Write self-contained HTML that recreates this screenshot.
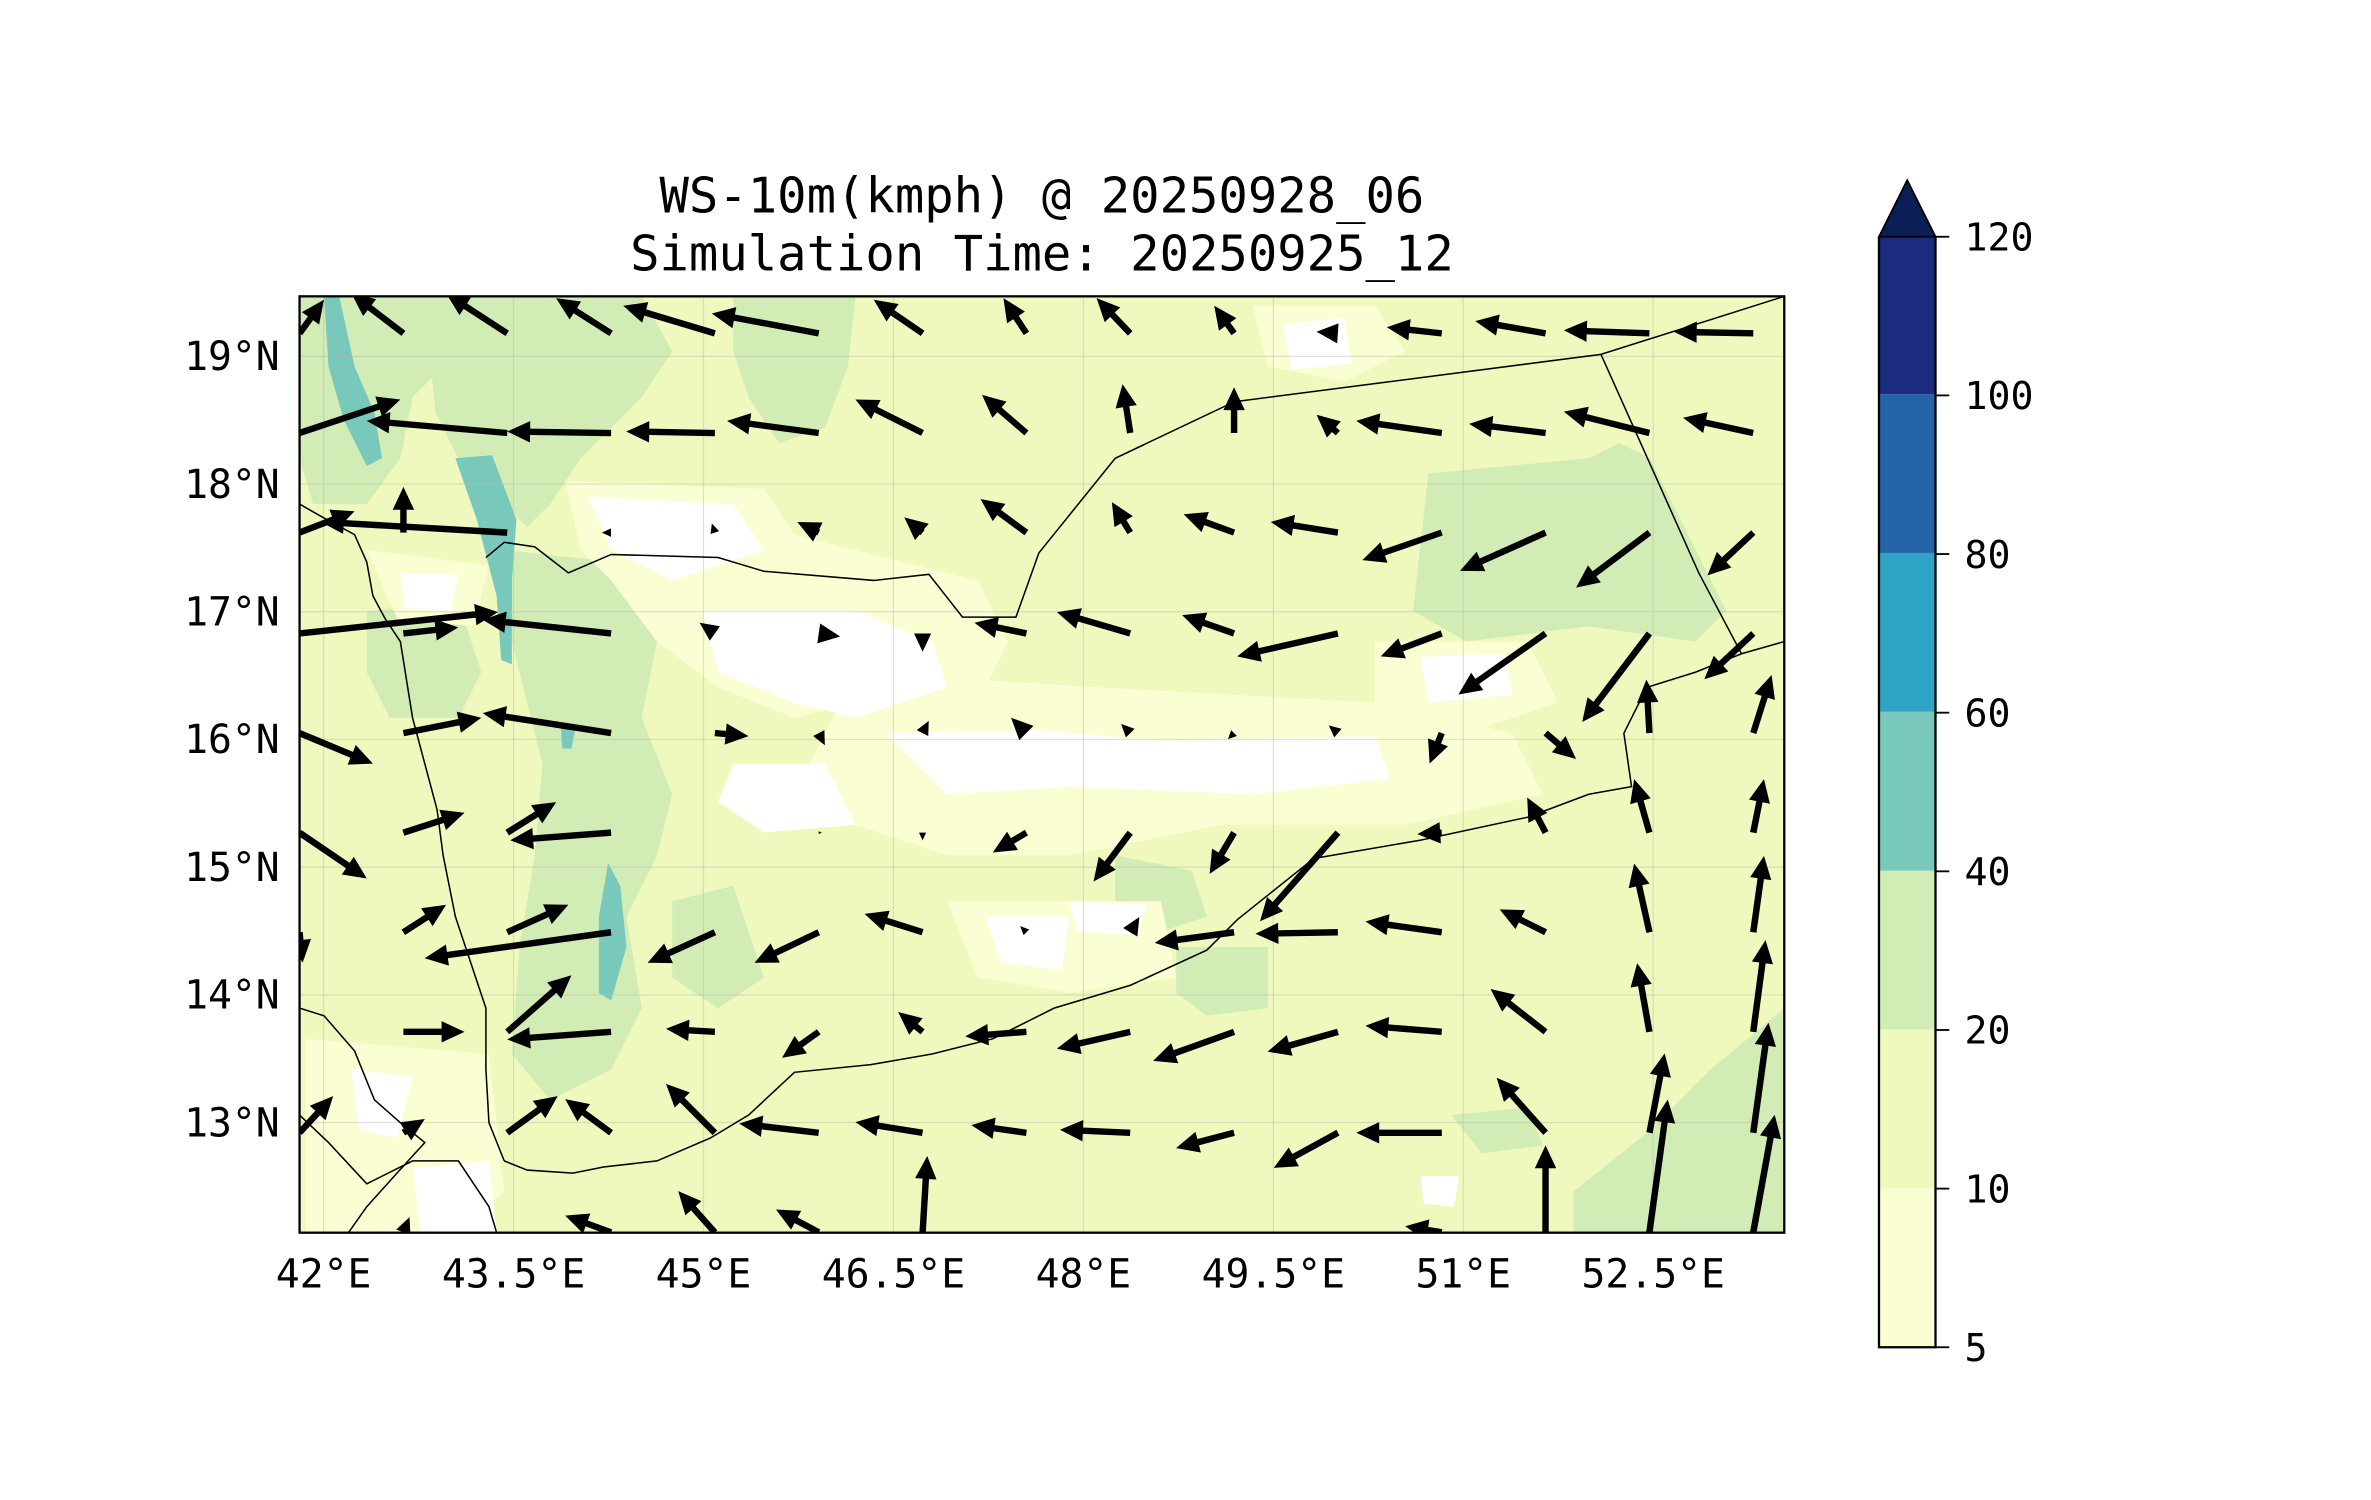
<!DOCTYPE html>
<html><head><meta charset="utf-8"><style>
html,body{margin:0;padding:0;background:#fff;}
svg{display:block;}
text{font-family:"DejaVu Sans Mono","Liberation Mono",monospace;fill:#000;}
</style></head><body>
<svg id="chart" width="2371" height="1500" viewBox="0 0 1552 982" xmlns="http://www.w3.org/2000/svg">
<defs><clipPath id="mapclip"><rect x="196" y="194" width="972" height="613"/></clipPath></defs>
<text x="682" y="139" font-size="32" text-anchor="middle">WS-10m(kmph) @ 20250928_06</text>
<text x="682" y="177" font-size="32" text-anchor="middle">Simulation Time: 20250925_12</text>
<g clip-path="url(#mapclip)">
<rect x="196" y="194" width="972" height="613" fill="#eff8bd"/>
<g fill="#d1ecb4">
<path d="M196,194 L300,194 L300,230 L270,260 L262,300 L240,330 L205,330 L196,300Z"/>
<path d="M290,194 L420,194 L440,230 L420,260 L400,280 L380,300 L360,330 L345,345 L330,330 L300,300 L285,270 L282,240Z"/>
<path d="M480,194 L560,194 L555,240 L540,280 L510,290 L490,260 L480,230Z"/>
<path d="M330,360 L420,370 L430,420 L420,470 L440,520 L430,560 L410,600 L420,660 L400,700 L360,720 L335,690 L340,620 L350,560 L355,500 L340,440 L330,400Z"/>
<path d="M240,400 L300,395 L315,440 L300,470 L255,470 L240,440Z"/>
<path d="M935,310 L1040,300 L1060,290 L1080,300 L1130,400 L1110,420 L1040,410 L960,420 L925,400 Z"/>
<path d="M730,560 L780,570 L790,600 L760,610 L730,600 Z"/>
<path d="M770,620 L830,620 L830,660 L790,665 L770,650Z"/>
<path d="M440,590 L480,580 L500,640 L470,660 L440,640Z"/>
<path d="M1030,780 L1080,740 L1120,700 L1168,660 L1168,807 L1030,807Z"/>
<path d="M950,730 L1000,725 L1010,750 L970,755Z"/>
<path d="M620,470 L700,460 L720,500 L690,520 L640,515Z"/>
</g>
<g fill="#78c8bb">
<path d="M212,194 L222,194 L232,240 L245,270 L250,300 L240,305 L225,275 L215,240Z"/>
<path d="M298,300 L322,298 L338,340 L335,380 L335,435 L328,432 L325,390 L312,340Z"/>
<path d="M398,565 L406,580 L410,620 L400,655 L392,650 L392,600Z"/>
<path d="M367,475 L377,475 L374,490 L368,490Z"/>
</g>
<g fill="#fbfdd2">
<path d="M370,315 L500,320 L520,350 L640,380 L660,420 L640,460 L620,470 L560,460 L520,470 L470,450 L430,420 L400,380 L380,360Z"/>
<path d="M560,440 L720,450 L900,460 L990,480 L1010,520 L920,540 L800,540 L700,560 L620,560 L560,540 L520,520Z"/>
<path d="M820,200 L900,200 L920,230 L880,250 L830,240Z"/>
<path d="M200,680 L320,690 L330,780 L300,807 L200,807Z"/>
<path d="M620,590 L760,590 L770,640 L700,650 L640,640Z"/>
<path d="M900,420 L1000,420 L1020,460 L960,480 L900,460Z"/>
<path d="M240,360 L320,370 L310,410 L260,405Z"/>
</g>
<g fill="#ffffff">
<path d="M385,325 L480,330 L500,360 L440,380 L400,360Z"/>
<path d="M460,400 L560,400 L610,420 L620,450 L560,470 L520,460 L470,440Z"/>
<path d="M580,480 L680,478 L760,485 L900,482 L910,510 L820,520 L700,515 L620,520 L600,500Z"/>
<path d="M480,500 L540,500 L560,540 L500,545 L470,525Z"/>
<path d="M840,212 L880,208 L885,238 L845,242Z"/>
<path d="M930,430 L985,428 L990,455 L935,460Z"/>
<path d="M645,600 L700,600 L695,635 L655,630Z"/>
<path d="M700,590 L750,592 L745,612 L705,610Z"/>
<path d="M262,375 L300,376 L295,400 L265,398Z"/>
<path d="M230,700 L270,705 L260,745 L235,740Z"/>
<path d="M270,765 L320,760 L325,807 L275,807Z"/>
<path d="M930,770 L955,770 L952,790 L932,788Z"/>
</g>
<g id="grid" stroke="#bbb" stroke-opacity="0.45" stroke-width="0.8"></g>
<g fill="none" stroke="#000" stroke-width="1">
<path d="M196,330 L210,338 L232,350 L240,368 L244,390 L252,405 L262,420 L266,445 L270,470 L278,500 L286,530 L290,560 L298,600 L308,630 L318,660 L318,700 L320,735 L330,760"/>
<path d="M330,760 L345,766 L375,768 L395,764 L430,760 L465,745 L490,730 L520,702 L570,697 L610,690 L650,680 L690,660 L740,645 L790,622 L810,602 L860,562 L930,550 L1000,535 L1040,520 L1068,515 L1063,480 L1078,450 L1110,440 L1140,428 L1168,420"/>
<path d="M196,660 L212,665 L232,688 L245,720 L262,735 L278,748 L258,770 L240,790 L228,807"/>
<path d="M196,730 L215,748 L240,775 L270,760 L300,760 L320,790 L325,807"/>
<path d="M318,365 L330,355 L350,358 L372,375 L400,363 L470,365 L500,374 L572,380 L608,376 L630,404 L665,404 L680,362 L730,300 L808,263 L1048,232 L1168,194"/>
<path d="M1048,232 L1112,375 L1140,428"/>
</g>
<g id="quiver" fill="#000"></g>
</g>
<rect x="196" y="194" width="972" height="613" fill="none" stroke="#000" stroke-width="1.5"/>
<g id="ticks"></g>
<g>
<rect x="1230" y="778" width="37" height="104" fill="#fbfdd2"/>
<rect x="1230" y="674" width="37" height="104" fill="#eff8bd"/>
<rect x="1230" y="570" width="37" height="104" fill="#d1ecb4"/>
<rect x="1230" y="466" width="37" height="104" fill="#78c8bb"/>
<rect x="1230" y="362" width="37" height="104" fill="#2ea4c4"/>
<rect x="1230" y="258" width="37" height="104" fill="#2363a8"/>
<rect x="1230" y="155" width="37" height="103" fill="#1c2c80"/>
<path d="M1230,155 L1248.5,118 L1267,155Z" fill="#0b1e55" stroke="#000" stroke-width="1.2"/>
<path d="M1230,155 L1230,882 L1267,882 L1267,155" fill="none" stroke="#000" stroke-width="1.5"/>
<g id="cbticks"></g>
</g>
</svg>
<script>
const lons = [41.81,42.63,43.45,44.27,45.09,45.91,46.73,47.55,48.37,49.19,50.01,50.83,51.65,52.47,53.29];
const lats = [19.18,18.40,17.62,16.83,16.05,15.27,14.49,13.71,12.92,12.14];
const U = [
[16,-34,-40,-36,-60,-70,-32,-15,-22,-13,-14,-36,-46,-56,-52],
[66,0,-92,-68,-58,-60,-44,-29,-5,0,-14,-56,-50,-56,-46],
[36,0,-122,-6,-2,-14,-12,-30,-12,-33,-44,-52,-56,-48,-30],
[130,36,0,-84,-10,14,0,-34,-48,-34,-66,-40,-57,-44,-32],
[48,51,0,-84,22,4,4,-10,-6,-4,-6,-8,20,-2,12],
[44,40,32,-66,0,2,0,-22,-24,-16,-51,-16,-12,-10,7],
[2,28,40,-122,-44,-42,-38,-4,6,-52,-54,-50,-30,-10,7],
[0,40,42,-68,-32,-24,-16,-40,-48,-53,-46,-50,-36,-8,8],
[22,14,33,-30,-32,-52,-44,-36,-46,-38,-42,-56,-32,10,10],
[0,4,0,-30,-24,-28,3,0,0,0,0,-24,0,12,14]];
const V = [
[22,26,26,23,18,13,22,23,23,18,1,4,8,2,1],
[22,0,8,1,1,8,22,25,32,30,12,8,6,14,10],
[14,30,7,0,6,7,10,22,20,12,7,-18,-25,-36,-28],
[14,4,0,9,7,-2,-12,7,14,12,-15,-15,-40,-58,-30],
[-20,10,0,13,-2,-8,8,10,6,-4,5,-20,-17,35,38],
[-30,13,20,-5,0,0,-5,-13,-32,-27,-58,-1,23,35,35],
[-20,18,18,-17,-20,-20,12,4,10,-7,-1,7,15,45,50],
[0,0,37,-5,2,-17,13,-3,-11,-19,-13,4,28,45,60],
[24,9,24,22,32,6,7,5,2,-10,-23,0,36,52,72],
[0,10,0,11,27,15,50,0,0,0,0,4,57,87,77]];
const xTicks = [42,43.5,45,46.5,48,49.5,51,52.5];
const xTickLabels = ["42°E","43.5°E","45°E","46.5°E","48°E","49.5°E","51°E","52.5°E"];
const yTicks = [13,14,15,16,17,18,19];
const yTickLabels = ["13°N","14°N","15°N","16°N","17°N","18°N","19°N"];
const cbValues = [5,10,20,40,60,80,100,120];

const NS="http://www.w3.org/2000/svg";
function xs(lon){return 196+(lon-41.81)*82.9;}
function ys(lat){return 194+(19.47-lat)*83.6;}
function cb(i){return 882-i*(727/7);}
function mk(tag,attrs){const e=document.createElementNS(NS,tag);for(const k in attrs)e.setAttribute(k,attrs[k]);return e;}

const grid=document.getElementById('grid');
xTicks.forEach(v=>{const l=mk('line',{x1:xs(v),x2:xs(v),y1:194,y2:807});

grid.appendChild(l);});
yTicks.forEach(v=>{const l=mk('line',{x1:196,x2:1168,y1:ys(v),y2:ys(v)});

grid.appendChild(l);});

const ticks=document.getElementById('ticks');
xTicks.forEach((v,i)=>{const t=mk('text',{x:xs(v),y:843,'font-size':26,'text-anchor':'middle'});t.textContent=xTickLabels[i];

ticks.appendChild(t);});
yTicks.forEach((v,i)=>{const t=mk('text',{x:183,y:ys(v)+9,'font-size':26,'text-anchor':'end'});t.textContent=yTickLabels[i];

ticks.appendChild(t);});

const cbt=document.getElementById('cbticks');
cbValues.forEach((v,i)=>{const y=cb(i);
const l=mk('line',{x1:1267,x2:1276,y1:y,y2:y,stroke:'#000','stroke-width':1.2});

cbt.appendChild(l);
const t=mk('text',{x:1286,y:y+9,'font-size':25});t.textContent=String(v);

cbt.appendChild(t);});

const q=document.getElementById('quiver');
for(let j=0;j<lats.length;j++){for(let i=0;i<lons.length;i++){
 const dx=U[j][i],dy=-V[j][i];const L=Math.hypot(dx,dy);if(L<1)continue;
 const x0=xs(lons[i]),y0=ys(lats[j]);
 const s=Math.min(1,L/15);const hl=15*s,hw=7*s,sw=2.1*s;
 const ux=dx/L,uy=dy/L,px=-uy,py=ux;const bx=x0+ux*(L-hl),by=y0+uy*(L-hl);
 const pts=[[x0+px*sw,y0+py*sw],[bx+px*sw,by+py*sw],[bx+px*hw,by+py*hw],[x0+dx,y0+dy],[bx-px*hw,by-py*hw],[bx-px*sw,by-py*sw],[x0-px*sw,y0-py*sw]];
 const p=mk('polygon',{points:pts.map(a=>a[0].toFixed(1)+','+a[1].toFixed(1)).join(' ')});
 
 
 q.appendChild(p);}}
</script>
</body></html>
